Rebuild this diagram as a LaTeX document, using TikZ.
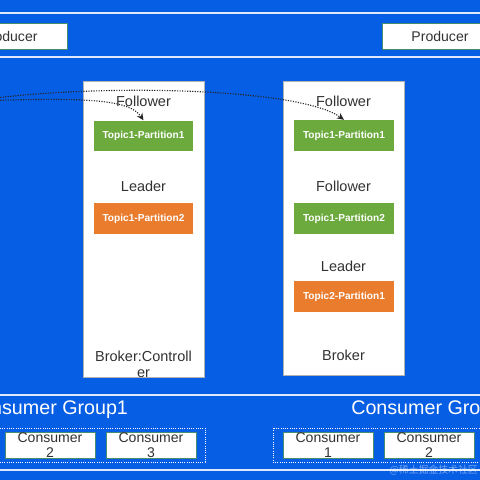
\documentclass[tikz,border=0pt]{standalone}
\usepackage{fontspec}
\setmainfont{Liberation Sans}
\newfontfamily\cjkfont{Noto Sans CJK SC}
\usepackage{xcolor}
\usetikzlibrary{arrows.meta, positioning, calc}
\definecolor{bgblue}{RGB}{6,94,228}
\definecolor{partgreen}{RGB}{108,170,62}
\definecolor{partorange}{RGB}{234,124,46}
\definecolor{rulewhite}{RGB}{222,232,250}
\definecolor{edgegreen}{RGB}{70,140,110}
\definecolor{labelgray}{RGB}{50,50,50}

\begin{document}
\begin{tikzpicture}[
        x=0.025cm, y=-0.025cm,
        broker/.style={rectangle, fill=white, draw=gray!60, line width=0.3pt, minimum width=3.025cm, inner sep=0pt},
        part/.style={rectangle, minimum width=2.475cm, minimum height=0.77cm, inner sep=0pt, font=\fontsize{7.2}{8}\selectfont\bfseries, text=white},
        role/.style={font=\fontsize{10.3}{11.5}\selectfont, text=labelgray, inner sep=0pt},
        client/.style={rectangle, fill=white, draw=edgegreen, line width=0.6pt, minimum height=0.65cm, inner sep=0pt, align=center, font=\fontsize{10}{11}\selectfont, text=labelgray},
        grouptitle/.style={font=\fontsize{14}{16}\selectfont, text=white, inner sep=0pt},
        rule/.style={draw=rulewhite, line width=1pt},
        replica/.style={-{Stealth[length=5pt, width=4.5pt]}, densely dotted, line width=0.8pt, draw=black!85}
    ]
        % Background
        \fill[bgblue] (0,0) rectangle (480,480);
        \useasboundingbox (0,0) rectangle (480,480);
        \clip (0,0) rectangle (480,480);

        % Horizontal rules
        \draw[rule] (0,13) -- (480,13);
        \draw[rule] (0,57) -- (480,57);
        \draw[rule] (0,395) -- (480,395);
        \draw[rule] (0,470) -- (480,470);

        % Producers
        \node[client, minimum width=2.9cm] (prodA) at (9,36)   {Producer};
        \node[client, minimum width=2.9cm] (prodB) at (440,36) {Producer};

        % Brokers
        \node[broker, minimum height=7.4cm]  (brokerA) at (143.5,229) {};
        \node[broker, minimum height=7.35cm] (brokerB) at (343.5,228) {};

        % Broker A content
        \node[role] (folA)  at (143.5,101) {Follower};
        \node[part, fill=partgreen]  (t1p1A) at (143.5,136) {Topic1-Partition1};
        \node[role] (leadA) at (143.5,186) {Leader};
        \node[part, fill=partorange] (t1p2A) at (143.5,218.5) {Topic1-Partition2};
        \node[role, align=center] (nameA) at (143.5,364) {Broker:Controll\\er};

        % Broker B content
        \node[role] (folB1) at (343.5,101) {Follower};
        \node[part, fill=partgreen]  (t1p1B) at (344,135.5) {Topic1-Partition1};
        \node[role] (folB2) at (343.5,186) {Follower};
        \node[part, fill=partgreen]  (t1p2B) at (344,218.5) {Topic1-Partition2};
        \node[role] (leadB) at (343.5,266) {Leader};
        \node[part, fill=partorange] (t2p1B) at (344,296.5) {Topic2-Partition1};
        \node[role] (nameB) at (343.5,355) {Broker};

        % Replication from the leader off to the left
        \coordinate (src1) at (-20,101);
        \coordinate (src2) at (-20,100);
        \draw[replica] (src1) .. controls (90,97) and (130,100) .. (t1p1A.north);
        \draw[replica] (src2) .. controls (100,83) and (300,88) .. (t1p1B.north);

        % Consumer groups
        \node[grouptitle] (groupA) at (47,410)  {Consumer Group1};
        \node[grouptitle, anchor=west] (groupB) at (351,410) {Consumer Group2};
        \draw[white, densely dotted, line width=0.6pt] (-20,428) rectangle (205,462);
        \draw[white, densely dotted, line width=0.6pt] (273,428) rectangle (520,462);

        \foreach \name/\cx/\num in {cA2/50/2, cA3/151/3, cB1/328/1, cB2/429/2}
            \node[client, minimum width=2.25cm] (\name) at (\cx,445) {Consumer\\\num};

        % Watermark
        \node[anchor=east, inner sep=0pt, text=white, opacity=0.45, font=\cjkfont\fontsize{7}{8}\selectfont] (mark) at (478,470) {@稀土掘金技术社区};
    \end{tikzpicture}
\end{document}
